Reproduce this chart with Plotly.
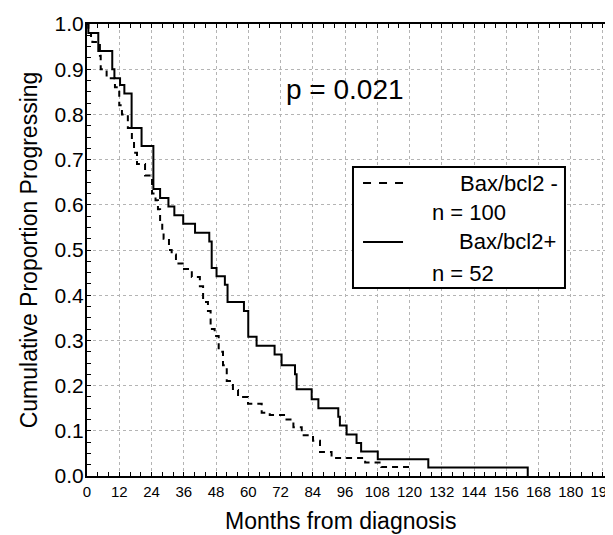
import plotly.graph_objects as go

# ---- data ----
neg_months = [0, 0.5, 1.5, 2.0, 4.8, 5.1, 7.3, 10.4, 12.0, 13.0, 15.2, 16.7, 17.5, 18.6,
              21.6, 24.2, 25.5, 26.4, 27.2, 28.0, 28.5, 30.5, 31.5, 33.1, 35.6, 39.0,
              42.0, 43.2, 45.0, 46.0, 47.5, 49.0, 50.6, 52.0, 54.3, 56.2, 59.9, 65.0,
              68.0, 73.7, 76.8, 79.9, 84.1, 86.7, 91.0, 103.5, 109.5, 120.0]
neg_values = [1.00, 0.98, 0.97, 0.96, 0.93, 0.90, 0.88, 0.86, 0.82, 0.80, 0.77, 0.745, 0.715, 0.69,
              0.665, 0.625, 0.61, 0.59, 0.56, 0.54, 0.525, 0.50, 0.49, 0.47, 0.458, 0.44,
              0.42, 0.385, 0.365, 0.325, 0.31, 0.275, 0.245, 0.21, 0.19, 0.175, 0.16, 0.14,
              0.135, 0.125, 0.108, 0.09, 0.078, 0.053, 0.04, 0.03, 0.02, 0.02]

pos_months = [0, 0.5, 4.2, 9.4, 10.2, 12.3, 13.9, 16.6, 20.3, 24.7, 27.2, 30.3, 32.5, 35.8,
              40.2, 45.5, 46.4, 48.2, 51.3, 52.3, 58.4, 60.0, 63.1, 69.8, 72.4, 77.4, 78.0,
              83.6, 86.1, 93.5, 94.1, 96.6, 100.3, 102.0, 108.2, 127.0, 164.0]
pos_values = [1.00, 0.98, 0.94, 0.90, 0.88, 0.865, 0.846, 0.77, 0.73, 0.635, 0.615, 0.596, 0.577, 0.558,
              0.538, 0.519, 0.46, 0.442, 0.423, 0.385, 0.365, 0.308, 0.288, 0.269, 0.245, 0.225, 0.192,
              0.17, 0.15, 0.131, 0.112, 0.092, 0.073, 0.054, 0.037, 0.019, 0.0]

x_ticks = list(range(0, 193, 12))
y_ticks = [round(i * 0.1, 1) for i in range(11)]
y_labels = [f"{v:.1f}" for v in y_ticks]

neg_label = ["Bax/bcl2 -", "n = 100"]
pos_label = ["Bax/bcl2+", "n = 52"]
p_text = "p = 0.021"
x_title = "Months from diagnosis"
y_title = "Cumulative Proportion Progressing"

FONT = "Liberation Sans, Arial, sans-serif"
NEG_DASH = "6px,5px"

fig = go.Figure()
fig.add_trace(go.Scatter(x=neg_months, y=neg_values, mode="lines", name=" ".join(neg_label),
                         showlegend=False,
                         line=dict(shape="hv", color="black", width=2, dash=NEG_DASH)))
fig.add_trace(go.Scatter(x=pos_months, y=pos_values, mode="lines", name=" ".join(pos_label),
                         showlegend=False,
                         line=dict(shape="hv", color="black", width=2)))

fig.add_annotation(x=96, y=0.855, xref="x", yref="y", text=p_text, showarrow=False,
                   font=dict(size=28, color="black", family=FONT))

# x-axis title (placed slightly left of the visible plot centre, as in the reference)
fig.add_annotation(x=0.474, y=0, xref="paper", yref="paper", text=x_title, showarrow=False,
                   xanchor="center", yanchor="middle", yshift=-45,
                   font=dict(size=23, color="black", family=FONT))

# ---- legend box (paper coordinates) ----
LX0, LX1, LY0, LY1 = 0.4981, 0.8951, 0.4159, 0.6836
fig.add_shape(type="rect", xref="paper", yref="paper", x0=LX0, x1=LX1, y0=LY0, y1=LY1,
              line=dict(color="black", width=2), fillcolor="white", layer="above")
row_y = [0.6482, 0.5819, 0.5177, 0.4491]
fig.add_shape(type="line", xref="paper", yref="paper", x0=0.5169, x1=0.5918, y0=row_y[0], y1=row_y[0],
              line=dict(color="black", width=2, dash="8px,8px"), layer="above")
fig.add_shape(type="line", xref="paper", yref="paper", x0=0.5169, x1=0.5918, y0=row_y[2], y1=row_y[2],
              line=dict(color="black", width=2), layer="above")
leg_font = dict(size=22, color="black", family=FONT)
fig.add_annotation(x=0.8858, y=row_y[0], xref="paper", yref="paper", text=neg_label[0],
                   showarrow=False, xanchor="right", yanchor="middle", font=leg_font)
fig.add_annotation(x=0.6423, y=row_y[1], xref="paper", yref="paper", text=neg_label[1],
                   showarrow=False, xanchor="left", yanchor="middle", font=leg_font)
fig.add_annotation(x=0.8815, y=row_y[2], xref="paper", yref="paper", text=pos_label[0],
                   showarrow=False, xanchor="right", yanchor="middle", font=leg_font)
fig.add_annotation(x=0.6423, y=row_y[3], xref="paper", yref="paper", text=pos_label[1],
                   showarrow=False, xanchor="left", yanchor="middle", font=leg_font)

fig.update_layout(
    width=613, height=535,
    margin=dict(l=79, r=0, t=16, b=67, autoexpand=False),
    paper_bgcolor="white", plot_bgcolor="white",
    font=dict(family=FONT, color="black"),
    showlegend=False,
)
fig.update_xaxes(
    range=[0, 198.7], tickvals=x_ticks, ticktext=[str(v) for v in x_ticks],
    automargin=False, ticklabeloverflow="allow",
    showgrid=True, gridcolor="#b4b4b4", griddash="dot", gridwidth=1,
    showline=True, linecolor="black", linewidth=2, mirror="allticks",
    ticks="inside", ticklen=4, tickcolor="black", tickwidth=1,
    minor=dict(dtick=4, tick0=0, ticks="inside", ticklen=4, tickcolor="black", showgrid=False),
    tickfont=dict(size=15, color="black"), ticklabelstandoff=1,
    zeroline=False,
)
fig.update_yaxes(
    range=[0, 1], tickvals=y_ticks, ticktext=y_labels,
    automargin=False, ticklabeloverflow="allow",
    showgrid=True, gridcolor="#b4b4b4", griddash="dot", gridwidth=1,
    showline=True, linecolor="black", linewidth=2, mirror="allticks",
    ticks="inside", ticklen=4, tickcolor="black", tickwidth=1,
    minor=dict(dtick=0.025, tick0=0, ticks="inside", ticklen=4, tickcolor="black", showgrid=False),
    tickfont=dict(size=21, color="black"), ticklabelstandoff=-3,
    title=dict(text=y_title, font=dict(size=23, color="black"), standoff=11),
    zeroline=False,
)

fig.write_html("out.html")
